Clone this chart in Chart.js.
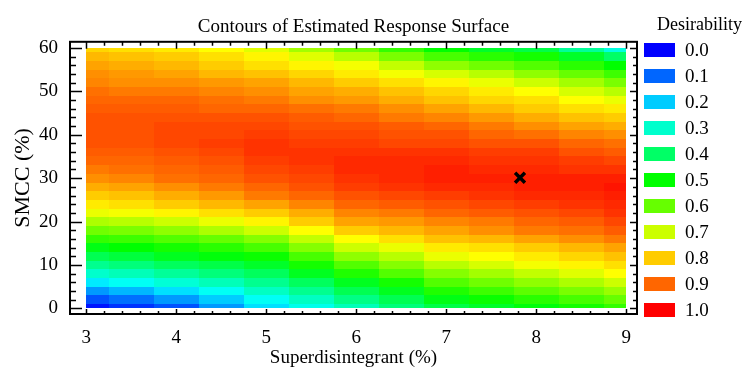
<!DOCTYPE html>
<html>
<head>
<meta charset="utf-8">
<title>Contours of Estimated Response Surface</title>
<script src="https://cdn.jsdelivr.net/npm/chart.js@4.4.1/dist/chart.umd.min.js"></script>
<style>
  html, body { margin: 0; padding: 0; background: #fff; }
  #wrap { width: 744px; height: 369px; }
</style>
</head>
<body>
<div id="wrap"><canvas id="surfaceChart" width="744" height="369"></canvas></div>
<script>
// grid of the fitted surface: columns = superdisintegrant %, rows = SMCC %
const superdisintegrant = [3, 3.5, 4, 4.5, 5, 5.5, 6, 6.5, 7, 7.5, 8, 8.5, 9];
const smcc = [0, 2, 4, 6, 8, 10, 12, 14, 16, 18, 20, 22, 24, 26, 28, 30,
  32, 34, 36, 38, 40, 42, 44, 46, 48, 50, 52, 54, 56, 58, 60];

// desirability[i][j] at smcc[i], superdisintegrant[j]
const desirability = [
  [0.02, 0.05, 0.08, 0.15, 0.22, 0.27, 0.32, 0.38, 0.43, 0.46, 0.49, 0.52, 0.55],
  [0.08, 0.11, 0.15, 0.20, 0.26, 0.31, 0.37, 0.42, 0.48, 0.51, 0.54, 0.57, 0.60],
  [0.15, 0.18, 0.22, 0.26, 0.31, 0.36, 0.42, 0.47, 0.53, 0.56, 0.59, 0.62, 0.65],
  [0.23, 0.26, 0.29, 0.32, 0.36, 0.41, 0.47, 0.52, 0.58, 0.61, 0.64, 0.67, 0.70],
  [0.30, 0.32, 0.35, 0.38, 0.41, 0.47, 0.53, 0.58, 0.63, 0.66, 0.69, 0.72, 0.75],
  [0.36, 0.38, 0.41, 0.43, 0.46, 0.52, 0.58, 0.63, 0.68, 0.71, 0.74, 0.76, 0.78],
  [0.42, 0.44, 0.47, 0.49, 0.51, 0.57, 0.64, 0.68, 0.73, 0.75, 0.77, 0.79, 0.81],
  [0.48, 0.50, 0.52, 0.54, 0.57, 0.63, 0.70, 0.73, 0.77, 0.78, 0.80, 0.82, 0.84],
  [0.55, 0.56, 0.58, 0.60, 0.63, 0.69, 0.75, 0.78, 0.81, 0.82, 0.84, 0.86, 0.88],
  [0.61, 0.62, 0.64, 0.67, 0.70, 0.75, 0.80, 0.82, 0.84, 0.86, 0.88, 0.89, 0.91],
  [0.67, 0.68, 0.70, 0.73, 0.76, 0.80, 0.84, 0.85, 0.87, 0.88, 0.90, 0.91, 0.93],
  [0.73, 0.74, 0.76, 0.78, 0.80, 0.83, 0.87, 0.88, 0.90, 0.91, 0.92, 0.93, 0.95],
  [0.77, 0.78, 0.80, 0.82, 0.84, 0.87, 0.90, 0.91, 0.92, 0.93, 0.94, 0.95, 0.96],
  [0.80, 0.81, 0.83, 0.85, 0.88, 0.90, 0.92, 0.93, 0.94, 0.95, 0.96, 0.96, 0.97],
  [0.83, 0.84, 0.86, 0.88, 0.90, 0.92, 0.94, 0.95, 0.96, 0.96, 0.97, 0.97, 0.98],
  [0.86, 0.87, 0.89, 0.90, 0.92, 0.93, 0.95, 0.96, 0.97, 0.97, 0.97, 0.97, 0.97],
  [0.88, 0.89, 0.90, 0.91, 0.93, 0.94, 0.96, 0.96, 0.97, 0.96, 0.96, 0.95, 0.95],
  [0.90, 0.90, 0.91, 0.92, 0.94, 0.95, 0.96, 0.96, 0.96, 0.95, 0.95, 0.94, 0.93],
  [0.91, 0.91, 0.92, 0.93, 0.95, 0.95, 0.95, 0.95, 0.95, 0.94, 0.94, 0.92, 0.91],
  [0.92, 0.92, 0.93, 0.94, 0.95, 0.94, 0.94, 0.93, 0.93, 0.92, 0.92, 0.90, 0.89],
  [0.92, 0.92, 0.93, 0.93, 0.94, 0.93, 0.93, 0.92, 0.92, 0.90, 0.89, 0.87, 0.86],
  [0.92, 0.92, 0.93, 0.93, 0.93, 0.92, 0.92, 0.91, 0.90, 0.88, 0.86, 0.84, 0.83],
  [0.92, 0.92, 0.92, 0.92, 0.92, 0.91, 0.90, 0.88, 0.87, 0.85, 0.83, 0.81, 0.80],
  [0.91, 0.91, 0.91, 0.90, 0.90, 0.89, 0.88, 0.86, 0.84, 0.82, 0.80, 0.78, 0.77],
  [0.90, 0.90, 0.90, 0.89, 0.88, 0.86, 0.85, 0.83, 0.81, 0.79, 0.78, 0.75, 0.73],
  [0.89, 0.88, 0.88, 0.87, 0.86, 0.84, 0.83, 0.81, 0.79, 0.77, 0.75, 0.71, 0.68],
  [0.87, 0.86, 0.86, 0.85, 0.84, 0.82, 0.80, 0.78, 0.76, 0.73, 0.70, 0.66, 0.62],
  [0.86, 0.85, 0.84, 0.82, 0.81, 0.79, 0.77, 0.74, 0.71, 0.68, 0.64, 0.60, 0.56],
  [0.84, 0.83, 0.82, 0.80, 0.78, 0.76, 0.74, 0.69, 0.64, 0.61, 0.58, 0.54, 0.50],
  [0.82, 0.81, 0.80, 0.78, 0.76, 0.72, 0.68, 0.62, 0.57, 0.54, 0.52, 0.46, 0.40],
  [0.79, 0.78, 0.77, 0.75, 0.72, 0.66, 0.61, 0.55, 0.50, 0.46, 0.43, 0.35, 0.28],
];

const optimum = [{ x: 7.82, y: 30.1 }];
const xTicks = [3, 4, 5, 6, 7, 8, 9];
const yTicks = [0, 10, 20, 30, 40, 50, 60];
const legendLevels = [0.0, 0.1, 0.2, 0.3, 0.4, 0.5, 0.6, 0.7, 0.8, 0.9, 1.0];

const SERIF = "'Liberation Serif', 'Times New Roman', serif";

// blue (0) -> green (0.5) -> red (1) around the hue wheel
const shade = (v) => 'hsl(' + (240 * (1 - v)).toFixed(1) + ',100%,50%)';

// filled cells, each centred on its grid node and clipped to the data range
const surfacePlugin = {
  id: 'surface',
  beforeDatasetsDraw(chart) {
    const { ctx, scales: { x, y } } = chart;
    const xMin = superdisintegrant[0], xMax = superdisintegrant[superdisintegrant.length - 1];
    const yMin = smcc[0], yMax = smcc[smcc.length - 1];
    const hx = (superdisintegrant[1] - superdisintegrant[0]) / 2;
    const hy = (smcc[1] - smcc[0]) / 2;
    ctx.save();
    smcc.forEach((yv, i) => {
      superdisintegrant.forEach((xv, j) => {
        const x0 = Math.round(x.getPixelForValue(Math.max(xMin, xv - hx)));
        const x1 = Math.round(x.getPixelForValue(Math.min(xMax, xv + hx)));
        const y0 = Math.round(y.getPixelForValue(Math.min(yMax, yv + hy)));
        const y1 = Math.round(y.getPixelForValue(Math.max(yMin, yv - hy)));
        ctx.fillStyle = shade(desirability[i][j]);
        ctx.fillRect(x0, y0, x1 - x0, y1 - y0);
      });
    });
    ctx.restore();
  },
};

// box frame with inward ticks, plus the colour key on the right
const framePlugin = {
  id: 'frame',
  afterDraw(chart) {
    const { ctx, chartArea: a, scales: { x, y } } = chart;
    ctx.save();
    ctx.strokeStyle = '#000';
    ctx.lineWidth = 2;
    ctx.strokeRect(a.left, a.top, a.right - a.left, a.bottom - a.top);

    ctx.lineWidth = 1.5;
    ctx.beginPath();
    for (let k = 0; k <= 30; k++) {
      const major = k % 5 === 0;
      const px = Math.round(x.getPixelForValue(3 + k * 0.2)) + 0.5;
      ctx.moveTo(px, a.bottom); ctx.lineTo(px, a.bottom - (major ? 5 : 3));
      ctx.moveTo(px, a.top); ctx.lineTo(px, a.top + (major ? 7 : 4));
      const py = Math.round(y.getPixelForValue(k * 2)) + 0.5;
      ctx.moveTo(a.left, py); ctx.lineTo(a.left + (major ? 12 : 6), py);
      ctx.moveTo(a.right, py); ctx.lineTo(a.right - (major ? 7 : 4), py);
    }
    ctx.stroke();

    // colour key
    ctx.fillStyle = '#000';
    ctx.textBaseline = 'middle';
    ctx.textAlign = 'left';
    ctx.font = '18px ' + SERIF;
    ctx.fillText('Desirability', 657, 25);
    ctx.font = '19px ' + SERIF;
    legendLevels.forEach((v, i) => {
      const top = 43 + i * 26;
      ctx.fillStyle = shade(v);
      ctx.fillRect(644, top, 31, 14);
      ctx.fillStyle = '#000';
      ctx.fillText(v.toFixed(1), 685, top + 8);
    });
    ctx.restore();
  },
};

Chart.defaults.font.family = SERIF;
Chart.defaults.color = '#000';

new Chart(document.getElementById('surfaceChart'), {
  type: 'scatter',
  data: {
    datasets: [
      {
        data: optimum,
        pointStyle: 'crossRot',
        pointRadius: 7,
        pointHoverRadius: 7,
        borderWidth: 3.5,
        borderColor: '#000',
        backgroundColor: '#000',
      },
    ],
  },
  options: {
    responsive: false,
    animation: false,
    layout: { padding: { left: 0, right: 107, top: 0, bottom: 0 } },
    plugins: {
      legend: { display: false },
      tooltip: { enabled: false },
      title: {
        display: true,
        fullSize: false,
        text: 'Contours of Estimated Response Surface',
        font: { size: 19, weight: 'normal' },
        color: '#000',
        padding: { top: 16, bottom: 3 },
      },
    },
    scales: {
      x: {
        type: 'linear',
        min: 2.82,
        max: 9.12,
        afterBuildTicks: (axis) => { axis.ticks = xTicks.map((v) => ({ value: v })); },
        afterFit: (axis) => { axis.height = 55; },
        ticks: { font: { size: 19 }, padding: 13, maxRotation: 0, autoSkip: false },
        grid: { display: false, drawTicks: false },
        border: { display: false },
        title: {
          display: true,
          text: 'Superdisintegrant (%)',
          font: { size: 19 },
          padding: { top: 0, bottom: 0 },
        },
      },
      y: {
        type: 'linear',
        min: -1.27,
        max: 61.4,
        afterBuildTicks: (axis) => { axis.ticks = yTicks.map((v) => ({ value: v })); },
        afterFit: (axis) => { axis.width = 70; },
        ticks: { font: { size: 19 }, padding: 12, autoSkip: false },
        grid: { display: false, drawTicks: false },
        border: { display: false },
        title: {
          display: true,
          text: 'SMCC (%)',
          font: { size: 22 },
          padding: { top: 10, bottom: 0 },
        },
      },
    },
  },
  plugins: [surfacePlugin, framePlugin],
});
</script>
</body>
</html>
